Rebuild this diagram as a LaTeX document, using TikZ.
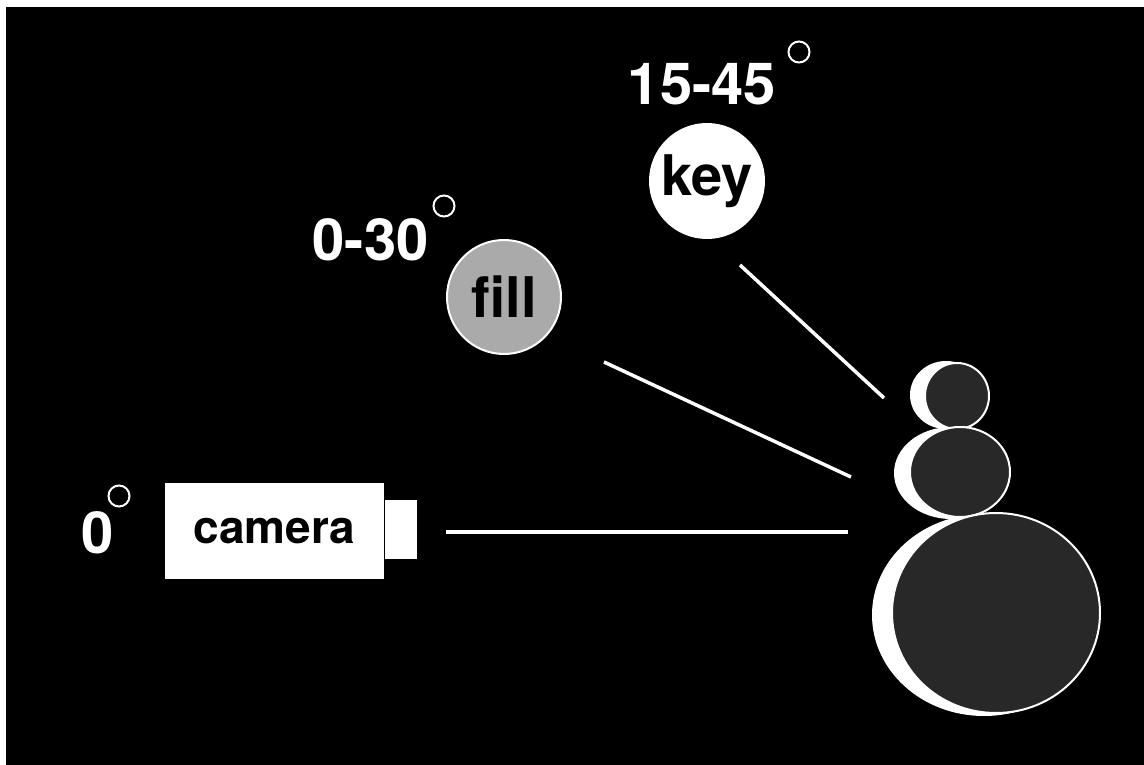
\documentclass[tikz,border=0pt]{standalone}
\usepackage{fontspec}
\setmainfont{TeX Gyre Heros}
\definecolor{body}{RGB}{40,40,40}
\definecolor{fillgray}{RGB}{170,170,170}
\begin{document}
\begin{tikzpicture}[x=1pt,y=-1pt,
  angle/.style={text=white,inner sep=0pt,anchor=base,
    font=\bfseries\fontsize{58}{58}\selectfont},
  degree/.style={circle,draw=white,line width=2pt,minimum size=21pt,inner sep=0pt},
  lamp/.style={circle,draw=white,line width=2pt,minimum size=114pt,inner sep=0pt,
    text=black,font=\bfseries\fontsize{56}{56}\selectfont},
  box/.style={fill=white,inner sep=0pt},
  ray/.style={white,line width=3.5pt},
  lit/.style={fill=white},
  shade/.style={fill=body,draw=white,line width=2pt}]
% frame and backdrop
\fill[white] (0,0) rectangle (1144,765);
\fill[black] (6,7) rectangle (1144,765);

% camera with its angle
\node[box,minimum width=219pt,minimum height=96pt,
  font=\bfseries\fontsize{46}{46}\selectfont] (camera) at (274.5,531) {camera\hspace{12pt}};
\node[box,minimum width=32pt,minimum height=59pt] (lens) at (401,529.5) {};
\node[angle] (cam-ang) at (98,553) {0};
\node[degree] (cam-deg) at (119,496) {};

% fill light
\node[lamp,fill=fillgray] (fill) at (504,297) {fill};
\node[angle] (fill-ang) at (370.5,260) {0-30};
\node[degree] (fill-deg) at (444,206) {};

% key light
\node[lamp,fill=white] (key) at (707,181) {key};
\node[angle] (key-ang) at (702,105) {15-45};
\node[degree] (key-deg) at (799,52) {};

% snowman subject: lit rims first, then the bodies
\fill[lit] (984,615) ellipse [x radius=112, y radius=101];
\fill[lit] (951,473) ellipse [x radius=57, y radius=46];
\fill[lit] (946,395) ellipse [x radius=36, y radius=34];
\path[shade] (957,396) ellipse [x radius=32, y radius=33];
\path[shade] (960,472) ellipse [x radius=50, y radius=45];
\path[shade] (996,613) ellipse [x radius=104, y radius=100];

% sight lines toward the subject
\coordinate (cam-ray) at (446,532);
\coordinate (cam-hit) at (848,532);
\coordinate (fill-ray) at (604,362);
\coordinate (fill-hit) at (851,477);
\coordinate (key-ray) at (740,265);
\coordinate (key-hit) at (884,398);
\draw[ray] (cam-ray) -- (cam-hit);
\draw[ray] (fill-ray) -- (fill-hit);
\draw[ray] (key-ray) -- (key-hit);
\end{tikzpicture}
\end{document}
